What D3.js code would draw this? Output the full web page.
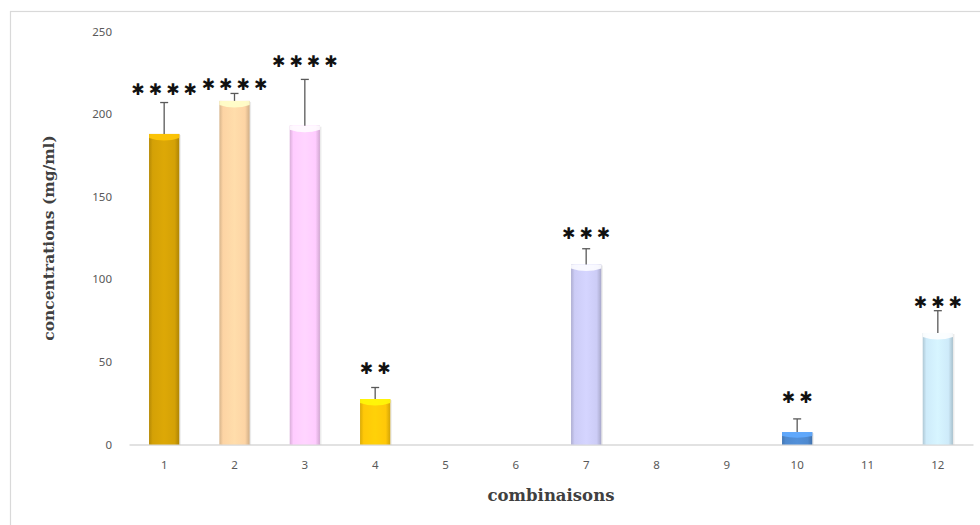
<!DOCTYPE html>
<html>
<head>
<meta charset="utf-8">
<script src="https://cdn.jsdelivr.net/npm/d3@7/dist/d3.min.js"></script>
<style>
  html, body { margin: 0; padding: 0; background: #fff; }
  svg { display: block; }
</style>
</head>
<body>
<svg id="chart" width="980" height="525"></svg>
<script>
// Concentrations (mg/ml) per combination, with upper error and significance marks
const combinaisons = ["1", "2", "3", "4", "5", "6", "7", "8", "9", "10", "11", "12"];
const concentrations = [188, 208, 193, 27.5, 0, 0, 109, 0, 0, 7.5, 0, 67.5];
const erreurs = [19, 4.5, 28, 7, 0, 0, 9.5, 0, 0, 8, 0, 13.5];
const etoiles = ["****", "****", "****", "**", "", "", "***", "", "", "**", "", "***"];
// level (in mg/ml) at which each significance mark is centred
const niveauEtoiles = [215, 218, 232, 46, 0, 0, 128, 0, 0, 28.5, 0, 86];
const couleurs = ["#D4A106", "#FDD4A4", "#FFCCFF", "#FFC808", "#cccccc", "#cccccc",
                  "#CCCCF6", "#cccccc", "#cccccc", "#4F8AD0", "#cccccc", "#CEEBFA"];
const yTicks = [0, 50, 100, 150, 200, 250];

const svg = d3.select("#chart");

// outer frame
svg.append("rect")
  .attr("x", 10.5).attr("y", 11.5)
  .attr("width", 1000).attr("height", 600)
  .attr("fill", "none").attr("stroke", "#d9d9d9").attr("stroke-width", 1.2);

const x = d3.scaleBand()
  .domain(combinaisons)
  .range([129, 973])
  .paddingInner(0.57)
  .paddingOuter(0.285);

const y = d3.scaleLinear()
  .domain([0, 250])
  .range([444.5, 31.5]);

const defs = svg.append("defs");
combinaisons.forEach((c, i) => {
  const base = d3.color(couleurs[i]);
  const g = defs.append("linearGradient")
    .attr("id", "grad" + i)
    .attr("x1", "0%").attr("x2", "100%").attr("y1", "0%").attr("y2", "0%");
  g.append("stop").attr("offset", "0%").attr("stop-color", base.darker(0.45));
  g.append("stop").attr("offset", "12%").attr("stop-color", base);
  g.append("stop").attr("offset", "50%").attr("stop-color", base.brighter(0.12));
  g.append("stop").attr("offset", "85%").attr("stop-color", base);
  g.append("stop").attr("offset", "100%").attr("stop-color", base.darker(0.55));
});

// y axis tick labels
svg.append("g")
  .selectAll("text")
  .data(yTicks)
  .join("text")
  .attr("x", 112)
  .attr("y", d => y(d))
  .attr("dy", "0.35em")
  .attr("text-anchor", "end")
  .attr("font-family", "'Noto Sans', sans-serif")
  .attr("font-size", 11.5)
  .attr("fill", "#595959")
  .text(d => d);

// x axis line and labels
const xAxis = d3.axisBottom(x).tickSize(0).tickPadding(16);
const gx = svg.append("g")
  .attr("transform", `translate(0,${y(0)})`)
  .call(xAxis);
gx.select(".domain").attr("stroke", "#d9d9d9").attr("stroke-width", 1.3);
gx.selectAll("text")
  .attr("font-family", "'Noto Sans', sans-serif")
  .attr("font-size", 11.5)
  .attr("fill", "#595959");

const data = combinaisons.map((c, i) => ({
  c, i, v: concentrations[i], e: erreurs[i], s: etoiles[i], ys: niveauEtoiles[i]
}));
const shown = data.filter(d => d.v > 0);

// bars
const bars = svg.append("g");
bars.selectAll("rect.shadow")
  .data(shown)
  .join("rect")
  .attr("class", "shadow")
  .attr("x", d => x(d.c) + 1.5)
  .attr("y", d => y(d.v) + 1)
  .attr("width", x.bandwidth())
  .attr("height", d => y(0) - y(d.v) - 1)
  .attr("fill", "#000")
  .attr("opacity", 0.08);

bars.selectAll("rect.bar")
  .data(shown)
  .join("rect")
  .attr("class", "bar")
  .attr("x", d => x(d.c))
  .attr("y", d => y(d.v))
  .attr("width", x.bandwidth())
  .attr("height", d => y(0) - y(d.v))
  .attr("fill", d => `url(#grad${d.i})`);

// lighter cylinder top on each bar
bars.selectAll("path.top")
  .data(shown)
  .join("path")
  .attr("class", "top")
  .attr("d", d => {
    const x0 = x(d.c), x1 = x0 + x.bandwidth(), y0 = y(d.v);
    const h = Math.min(4, (y(0) - y0) * 0.35);
    const dip = Math.min(9, (y(0) - y0) * 0.6);
    return `M${x0},${y0} L${x1},${y0} L${x1},${y0 + h} Q${(x0 + x1) / 2},${y0 + dip} ${x0},${y0 + h} Z`;
  })
  .attr("fill", d => d3.color(couleurs[d.i]).brighter(0.6))
  .attr("opacity", 0.9);

// error bars (upper side only)
const err = svg.append("g").attr("stroke", "#595959").attr("stroke-width", 1.3);
err.selectAll("line.v")
  .data(shown)
  .join("line")
  .attr("x1", d => x(d.c) + x.bandwidth() / 2)
  .attr("x2", d => x(d.c) + x.bandwidth() / 2)
  .attr("y1", d => y(d.v))
  .attr("y2", d => y(d.v + d.e));
err.selectAll("line.cap")
  .data(shown)
  .join("line")
  .attr("x1", d => x(d.c) + x.bandwidth() / 2 - 4)
  .attr("x2", d => x(d.c) + x.bandwidth() / 2 + 4)
  .attr("y1", d => y(d.v + d.e))
  .attr("y2", d => y(d.v + d.e));

// significance marks
svg.append("g")
  .selectAll("text")
  .data(shown.filter(d => d.s))
  .join("text")
  .attr("x", d => x(d.c) + x.bandwidth() / 2 + 2)
  .attr("y", d => y(d.ys))
  .attr("dy", "0.35em")
  .attr("text-anchor", "middle")
  .attr("font-family", "'DejaVu Sans', sans-serif")
  .attr("font-size", 16)
  .attr("letter-spacing", 4)
  .attr("fill", "#111")
  .text(d => d.s.replace(/\*/g, "\u2731"));

// axis titles
svg.append("text")
  .attr("transform", "translate(54,238) rotate(-90)")
  .attr("text-anchor", "middle")
  .attr("font-family", "'DejaVu Serif', serif")
  .attr("font-weight", "bold")
  .attr("font-size", 15.5)
  .attr("fill", "#404040")
  .text("concentrations (mg/ml)");

svg.append("text")
  .attr("x", 551)
  .attr("y", 501)
  .attr("text-anchor", "middle")
  .attr("font-family", "'DejaVu Serif', serif")
  .attr("font-weight", "bold")
  .attr("font-size", 16.5)
  .attr("fill", "#404040")
  .text("combinaisons");
</script>
</body>
</html>
